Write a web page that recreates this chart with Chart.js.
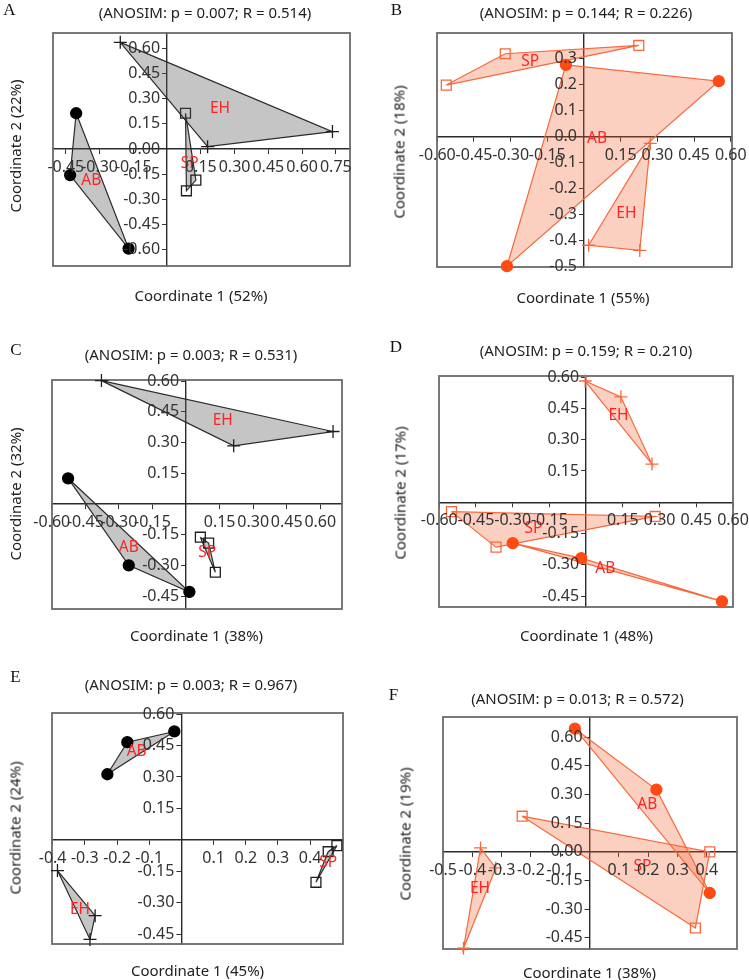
<!DOCTYPE html>
<html>
<head>
<meta charset="utf-8">
<script src="https://cdn.jsdelivr.net/npm/chart.js@4.4.1/dist/chart.umd.min.js"></script>
<style>
  body { margin: 0; width: 749px; height: 980px; overflow: hidden; background: #fff; position: relative; font-family: "Noto Sans", sans-serif; }
  canvas { position: absolute; }
  .txt { position: absolute; white-space: nowrap; line-height: 1; font-size: 15px; color: #222; transform: translate(-50%, -50%); }
  .ytitle { transform: translate(-50%, -50%) rotate(-90deg); }
  .letter { position: absolute; line-height: 1; font-family: "Liberation Serif", serif; font-size: 17px; color: #111; transform: translate(-50%, -50%); }
</style>
</head>
<body>
<script>
// group order in every panel
const groupNames = ['AB', 'EH', 'SP'];

// ANOSIM results and explained variance per panel (A..F)
const panelKeys = ['A', 'B', 'C', 'D', 'E', 'F'];
const anosimP = ['0.007', '0.144', '0.003', '0.159', '0.003', '0.013'];
const anosimR = ['0.514', '0.226', '0.531', '0.210', '0.967', '0.572'];
const coord1Pct = [52, 55, 38, 48, 45, 38];
const coord2Pct = [22, 18, 32, 17, 24, 19];

// PCoA scores [coord1, coord2]
const aAB = [[-0.404, 0.214], [-0.431, -0.156], [-0.171, -0.596]];
const aEH = [[-0.208, 0.638], [0.735, 0.104], [0.180, 0.014]];
const aSP = [[0.082, 0.214], [0.128, -0.186], [0.086, -0.250]];

const bAB = [[-0.074, 0.277], [0.551, 0.214], [-0.315, -0.500]];
const bEH = [[0.271, -0.026], [0.019, -0.419], [0.228, -0.439]];
const bSP = [[-0.563, 0.199], [-0.322, 0.320], [0.224, 0.352]];

const cAB = [[-0.527, 0.126], [-0.256, -0.298], [0.015, -0.428]];
const cEH = [[-0.378, 0.602], [0.657, 0.354], [0.213, 0.284]];
const cSP = [[0.064, -0.161], [0.101, -0.190], [0.131, -0.332]];

const dAB = [[-0.300, -0.196], [-0.020, -0.268], [0.555, -0.475]];
const dEH = [[-0.004, 0.581], [0.142, 0.505], [0.269, 0.183]];
const dSP = [[-0.550, -0.045], [0.282, -0.068], [-0.368, -0.215]];

const eAB = [[-0.022, 0.517], [-0.168, 0.466], [-0.230, 0.313]];
const eEH = [[-0.385, -0.146], [-0.268, -0.361], [-0.284, -0.474]];
const eSP = [[0.483, -0.027], [0.456, -0.056], [0.418, -0.202]];

const fAB = [[-0.050, 0.645], [0.228, 0.326], [0.410, -0.215]];
const fEH = [[-0.372, 0.021], [-0.320, -0.084], [-0.430, -0.504]];
const fSP = [[-0.230, 0.187], [0.410, 0.000], [0.361, -0.398]];

// where the group names sit (data units), order AB, EH, SP
const aLab = [[-0.337, -0.19], [0.235, 0.24], [0.100, -0.09]];
const bLab = [[0.053, -0.006], [0.173, -0.297], [-0.22, 0.29]];
const cLab = [[-0.256, -0.214], [0.164, 0.407], [0.094, -0.238]];
const dLab = [[0.078, -0.32], [0.132, 0.417], [-0.215, -0.124]];
const eLab = [[-0.139, 0.42], [-0.315, -0.334], [0.456, -0.107]];
const fLab = [[0.197, 0.248], [-0.374, -0.194], [0.18, -0.075]];

// tick labels
const aXTicks = ['-0.45', '-0.30', '-0.15', '0.15', '0.30', '0.45', '0.60', '0.75'];
const aYTicks = ['-0.60', '-0.45', '-0.30', '-0.15', '0.00', '0.15', '0.30', '0.45', '0.60'];
const bXTicks = ['-0.60', '-0.45', '-0.30', '-0.15', '0.15', '0.30', '0.45', '0.60'];
const bYTicks = ['-0.5', '-0.4', '-0.3', '-0.2', '-0.1', '0.0', '0.1', '0.2', '0.3'];
const cXTicks = ['-0.60', '-0.45', '-0.30', '-0.15', '0.15', '0.30', '0.45', '0.60'];
const cYTicks = ['-0.45', '-0.30', '-0.15', '0.15', '0.30', '0.45', '0.60'];
const dXTicks = ['-0.60', '-0.45', '-0.30', '-0.15', '0.15', '0.30', '0.45', '0.60'];
const dYTicks = ['-0.45', '-0.30', '-0.15', '0.15', '0.30', '0.45', '0.60'];
const eXTicks = ['-0.4', '-0.3', '-0.2', '-0.1', '0.1', '0.2', '0.3', '0.4'];
const eYTicks = ['-0.45', '-0.30', '-0.15', '0.15', '0.30', '0.45', '0.60'];
const fXTicks = ['-0.5', '-0.4', '-0.3', '-0.2', '-0.1', '0.1', '0.2', '0.3', '0.4'];
const fYTicks = ['-0.45', '-0.30', '-0.15', '0.00', '0.15', '0.30', '0.45', '0.60'];

const themes = {
    gray: { fill: 'rgba(90,90,90,0.35)', line: '#2b2b2b', dot: '#000000', mark: '#1e1e1e' },
    orange: { fill: 'rgba(245,100,50,0.30)', line: '#f8683c', dot: '#ff4a12', mark: '#f8683c' }
};
const markerStyle = { AB: 'circle', EH: 'cross', SP: 'rect' };
const markerRadius = { AB: 5.5, EH: 6.5, SP: 7 };

// layout of each panel: plot box [left, top, right, bottom], axis ranges and text anchors
const panels = [
    { theme: 'gray', pts: [aAB, aEH, aSP], lab: aLab, xt: aXTicks, yt: aYTicks,
      xr: [-0.507, 0.813], yr: [-0.700, 0.694], box: [53, 33, 350, 266],
      letter: [9.5, 8.5], title: [205, 12], xTitle: [201, 295], yTitle: [15, 146] },
    { theme: 'orange', pts: [bAB, bEH, bSP], lab: bLab, xt: bXTicks, yt: bYTicks,
      xr: [-0.601, 0.605], yr: [-0.503, 0.400], box: [437, 33, 732, 267],
      letter: [396.5, 9], title: [586, 11.5], xTitle: [583, 296.5], yTitle: [398.5, 151.5] },
    { theme: 'gray', pts: [cAB, cEH, cSP], lab: cLab, xt: cXTicks, yt: cYTicks,
      xr: [-0.599, 0.697], yr: [-0.511, 0.605], box: [52, 380, 342, 609],
      letter: [16, 348.5], title: [191, 354], xTitle: [196.5, 635], yTitle: [15, 494] },
    { theme: 'orange', pts: [dAB, dEH, dSP], lab: dLab, xt: dXTicks, yt: dYTicks,
      xr: [-0.601, 0.600], yr: [-0.502, 0.605], box: [439, 376, 733, 607],
      letter: [396, 345.5], title: [586, 350], xTitle: [586.5, 634.5], yTitle: [400, 493] },
    { theme: 'gray', pts: [eAB, eEH, eSP], lab: eLab, xt: eXTicks, yt: eYTicks,
      xr: [-0.402, 0.502], yr: [-0.496, 0.605], box: [52, 713, 343, 944],
      letter: [15.5, 676], title: [191, 683.5], xTitle: [197.5, 970], yTitle: [15, 828] },
    { theme: 'orange', pts: [fAB, fEH, fSP], lab: fLab, xt: fXTicks, yt: fYTicks,
      xr: [-0.500, 0.503], yr: [-0.508, 0.706], box: [443, 717, 737, 949],
      letter: [393.5, 693.5], title: [577.5, 698], xTitle: [589.5, 971.5], yTitle: [405, 834] }
];

const PAD = { left: 50, top: 20, right: 20, bottom: 30 };

// Plugin: moves the axes onto the zero lines, draws the frame and the group names
const crossAxes = {
    id: 'crossAxes',
    afterLayout(chart) {
        const xs = chart.scales.x;
        const ys = chart.scales.y;
        const px = xs.getPixelForValue(0);
        const py = ys.getPixelForValue(0);
        // labels are clipped to the scale box, so give it room on the label side
        ys.left = 0;
        ys.right = px;
        xs.top = py;
        xs.bottom = chart.height;
    },
    beforeDatasetsDraw(chart) {
        const { ctx, chartArea } = chart;
        ctx.save();
        ctx.strokeStyle = '#6b6b6b';
        ctx.lineWidth = 1.8;
        ctx.strokeRect(chartArea.left, chartArea.top, chartArea.right - chartArea.left, chartArea.bottom - chartArea.top);
        ctx.restore();
    },
    afterDatasetsDraw(chart, args, opts) {
        const { ctx } = chart;
        ctx.save();
        ctx.font = '15.5px "Noto Sans", sans-serif';
        ctx.fillStyle = '#ff2424';
        ctx.textAlign = 'center';
        ctx.textBaseline = 'middle';
        opts.labels.forEach(([x, y], i) => {
            ctx.fillText(groupNames[i], chart.scales.x.getPixelForValue(x), chart.scales.y.getPixelForValue(y));
        });
        ctx.restore();
    }
};

function groupDataset(name, pts, theme) {
    const t = themes[theme];
    const n = pts.length;
    return {
        label: name,
        data: pts.concat([pts[0]]).map(([x, y]) => ({ x: x, y: y })),
        showLine: true,
        fill: 'shape',
        backgroundColor: t.fill,
        borderColor: t.line,
        borderWidth: 1.2,
        pointStyle: markerStyle[name],
        pointRadius: c => (c.dataIndex === n ? 0 : markerRadius[name]),
        pointBackgroundColor: name === 'AB' ? t.dot : 'rgba(0,0,0,0)',
        pointBorderColor: name === 'AB' ? t.dot : t.mark,
        pointBorderWidth: 1.3,
        clip: false
    };
}

function axisOptions(range, tickLabels, horizontal) {
    return {
        type: 'linear',
        position: horizontal ? 'bottom' : 'left',
        min: range[0],
        max: range[1],
        afterFit: scale => {
            if (horizontal) scale.height = 0; else scale.width = 0;
        },
        afterBuildTicks: scale => {
            scale.ticks = tickLabels.map(s => ({ value: parseFloat(s) }));
        },
        grid: { display: true, drawOnChartArea: false, drawTicks: true, tickLength: 5, color: '#333', lineWidth: 1 },
        border: { display: true, color: '#2a2a2a', width: 1.4 },
        ticks: {
            z: 1,
            autoSkip: false,
            minRotation: 0,
            maxRotation: 0,
            padding: horizontal ? 4 : 2,
            color: '#333',
            font: { family: '"Noto Sans", sans-serif', size: 16 },
            callback: (v, i) => tickLabels[i]
        }
    };
}

function addText(cls, text, xy) {
    const el = document.createElement('div');
    el.className = cls;
    el.textContent = text;
    el.style.left = xy[0] + 'px';
    el.style.top = xy[1] + 'px';
    document.body.appendChild(el);
}

panels.forEach((p, k) => {
    const [L, T, R, B] = p.box;
    const canvas = document.createElement('canvas');
    canvas.width = R - L + PAD.left + PAD.right;
    canvas.height = B - T + PAD.top + PAD.bottom;
    canvas.style.left = (L - PAD.left) + 'px';
    canvas.style.top = (T - PAD.top) + 'px';
    document.body.appendChild(canvas);

    new Chart(canvas.getContext('2d'), {
        type: 'scatter',
        data: {
            datasets: groupNames.map((g, i) => groupDataset(g, p.pts[i], p.theme))
        },
        options: {
            responsive: false,
            animation: false,
            events: [],
            layout: { padding: PAD },
            scales: {
                x: axisOptions(p.xr, p.xt, true),
                y: axisOptions(p.yr, p.yt, false)
            },
            plugins: {
                legend: { display: false },
                tooltip: { enabled: false },
                crossAxes: { labels: p.lab }
            }
        },
        plugins: [crossAxes]
    });

    addText('letter', panelKeys[k], p.letter);
    addText('txt', '(ANOSIM: p = ' + anosimP[k] + '; R = ' + anosimR[k] + ')', p.title);
    addText('txt', 'Coordinate 1 (' + coord1Pct[k] + '%)', p.xTitle);
    addText('txt ytitle', 'Coordinate 2 (' + coord2Pct[k] + '%)', p.yTitle);
});
</script>
</body>
</html>
